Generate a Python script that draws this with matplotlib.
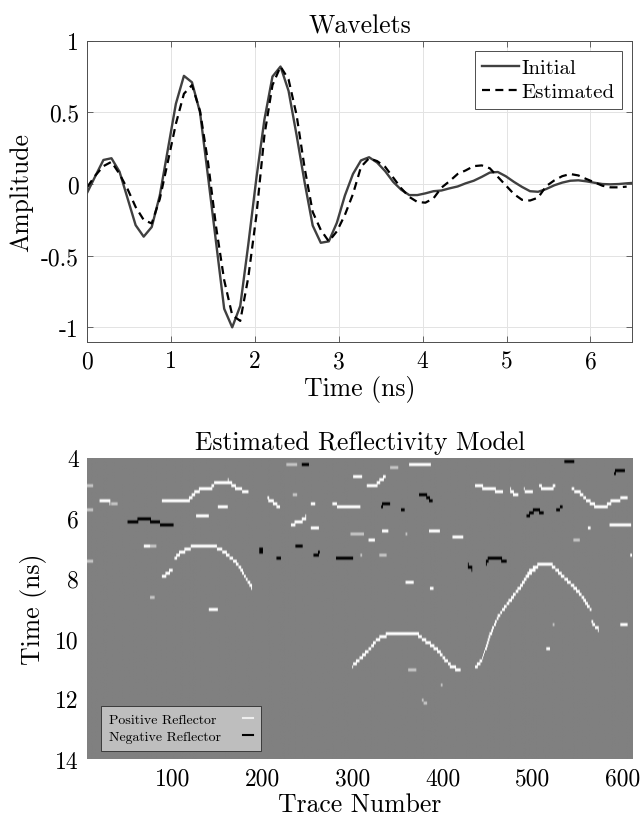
import numpy as np
import matplotlib
matplotlib.use("Agg")
import matplotlib.pyplot as plt
from matplotlib.lines import Line2D

plt.rcParams["font.family"] = "cmr10"
plt.rcParams["mathtext.fontset"] = "cm"
plt.rcParams["axes.formatter.use_mathtext"] = True
plt.rcParams["axes.unicode_minus"] = False

# ---------------- wavelets (sample interval in ns) ----------------
sample_dt = 0.096
initial_wavelet = [
    -0.058, 0.056, 0.168, 0.18, 0.086, -0.10, -0.287, -0.367, -0.30, -0.08,
    0.24, 0.56, 0.755, 0.71, 0.50, 0.05, -0.41, -0.87, -1.00, -0.85,
    -0.42, 0.04, 0.45, 0.75, 0.82, 0.65, 0.34, 0.01, -0.29, -0.41,
    -0.40, -0.27, -0.08, 0.07, 0.165, 0.187, 0.15, 0.09, 0.015, -0.04,
    -0.077, -0.077, -0.065, -0.05, -0.045, -0.03, -0.017, 0.005, 0.023, 0.05,
    0.08, 0.084, 0.054, 0.015, -0.02, -0.05, -0.054, -0.035, -0.009, 0.01,
    0.023, 0.026, 0.019, 0.009, 0.0, -0.002, 0.0, 0.005, 0.009,
]
estimated_wavelet = [
    -0.02, 0.06, 0.125, 0.155, 0.07, -0.035, -0.16, -0.25, -0.275, -0.105,
    0.155, 0.42, 0.63, 0.69, 0.51, 0.15, -0.30, -0.67, -0.915, -0.955,
    -0.65, -0.22, 0.34, 0.69, 0.82, 0.73, 0.48, 0.11, -0.195, -0.32,
    -0.40, -0.33, -0.215, -0.07, 0.12, 0.18, 0.16, 0.12, 0.045, -0.03,
    -0.09, -0.125, -0.13, -0.10, -0.025, 0.02, 0.07, 0.095, 0.125, 0.13,
    0.11, 0.05, -0.01, -0.07, -0.11, -0.115, -0.095, -0.015, 0.025, 0.055,
    0.07, 0.06, 0.035, 0.012, -0.012, -0.023, -0.023, -0.018,
]
wavelet_yticks = [-1, -0.5, 0, 0.5, 1]
wavelet_yticklabels = ["-1", "-0.5", "0", "0.5", "1"]
wavelet_xticks = [0, 1, 2, 3, 4, 5, 6]

# ---------------- reflectivity model ----------------
n_traces = 610
t_start, t_end, t_step = 4.0, 14.0, 0.1

# reflectors as (trace, time in ns) polylines
positive_reflectors = [
    [(89, 5.45), (116, 5.48), (126, 5.18), (131, 5.08), (142, 5.08), (148, 4.84),
     (162, 4.8), (169, 4.98), (173, 5.08), (184, 5.13)],
    [(127, 5.96), (140, 5.96)],
    [(151, 5.66), (161, 5.66)],
    [(69, 6.9), (75, 6.9)],
    [(89, 7.99), (100, 7.74)],
    [(103, 7.38), (109, 7.16), (118, 7.04), (126, 6.91), (144, 6.91), (150, 7.01),
     (158, 7.14), (162, 7.27), (169, 7.43), (175, 7.65), (180, 7.93), (186, 8.21),
     (188, 8.3)],
    [(141, 9.05), (150, 9.05)],
    [(20, 5.45), (31, 5.5)],
    [(206, 5.38), (212, 5.5), (219, 5.68)],
    [(254, 5.5), (258, 5.5)],
    [(232, 6.24), (240, 6.15), (247, 6.05), (248, 5.95)],
    [(254, 6.35), (262, 6.35)],
    [(278, 5.5), (284, 5.63), (308, 5.63)],
    [(301, 4.65), (310, 4.65)],
    [(363, 4.3), (385, 4.3), (386, 4.22)],
    [(316, 4.93), (326, 4.93), (333, 4.72), (336, 4.65)],
    [(436, 4.98), (452, 5.02), (460, 5.13), (466, 5.13)],
    [(475, 5.1), (478, 5.2), (483, 5.2)],
    [(490, 5.08), (492, 5.15), (499, 5.15)],
    [(507, 4.95), (509, 5.0), (522, 5.0), (524, 4.92)],
    [(543, 5.06), (553, 5.22), (560, 5.44), (568, 5.6), (579, 5.66), (586, 5.5),
     (601, 5.36), (604, 5.36)],
    [(333, 6.43), (339, 6.43)],
    [(318, 6.74), (324, 6.74)],
    [(385, 6.43), (396, 6.43)],
    [(411, 6.63), (422, 6.63)],
    [(359, 8.15), (367, 8.15)],
    [(386, 8.34), (389, 8.34)],
    [(585, 6.22), (608, 6.22)],
    [(561, 6.35), (563, 6.35)],
    [(608, 7.21), (609, 7.21)],
    [(436, 10.96), (443, 10.74), (447, 10.36), (452, 9.91), (460, 9.36), (467, 9.03),
     (476, 8.69), (483, 8.4), (490, 8.1), (497, 7.76), (505, 7.6), (521, 7.6),
     (525, 7.71), (534, 7.99), (546, 8.32), (555, 8.65), (562, 8.98), (564, 9.05)],
    [(486, 8.3), (492, 8.0), (500, 7.75), (504, 7.65)],
    [(565, 9.47), (572, 9.71)],
    [(597, 9.5), (604, 9.5)],
    [(515, 10.36), (518, 10.36)],
    [(300, 10.91), (306, 10.74), (319, 10.36), (326, 10.08), (334, 9.91), (348, 9.86),
     (371, 9.86), (380, 10.08), (393, 10.36), (402, 10.69), (410, 10.96), (419, 11.04)],
]
weak_positive_reflectors = [
    [(6, 4.9), (12, 4.9)],
    [(6, 5.77), (12, 5.77)],
    [(6, 7.45), (12, 7.45)],
    [(33, 5.6), (39, 5.6)],
    [(76, 6.93), (82, 6.93)],
    [(76, 8.63), (80, 8.63)],
    [(227, 4.3), (238, 4.3)],
    [(234, 5.27), (238, 5.27)],
    [(342, 4.37), (350, 4.37)],
    [(298, 6.5), (312, 6.5)],
    [(309, 7.3), (310, 7.3)],
    [(330, 7.29), (337, 7.29)],
    [(359, 6.52), (360, 6.52)],
    [(545, 6.77), (551, 6.77)],
    [(522, 9.58), (523, 9.58)],
    [(362, 11.03), (370, 11.03)],
    [(398, 11.6), (399, 11.6)],
    [(377, 12.07), (382, 12.17)],
]
negative_reflectors = [
    [(51, 6.14), (62, 6.14), (63, 6.05), (75, 6.05), (76, 6.14), (86, 6.14),
     (87, 6.24), (101, 6.24)],
    [(244, 4.24), (251, 4.24)],
    [(197, 7.07), (200, 7.07)],
    [(197, 7.17), (200, 7.17)],
    [(216, 7.32), (220, 7.32)],
    [(237, 6.99), (243, 6.99), (244, 6.93)],
    [(257, 7.21), (262, 7.21), (263, 7.15)],
    [(282, 7.38), (300, 7.38)],
    [(374, 5.27), (381, 5.27), (384, 5.38), (388, 5.45)],
    [(332, 5.65), (334, 5.55), (341, 5.5)],
    [(354, 5.77), (357, 5.77)],
    [(428, 7.6), (432, 7.7)],
    [(448, 7.5), (450, 7.4), (460, 7.37), (470, 7.43)],
    [(535, 4.13), (545, 4.13)],
    [(590, 4.53), (593, 4.45), (601, 4.45)],
    [(493, 5.98), (500, 5.8), (505, 5.76), (511, 5.87)],
    [(526, 5.76), (532, 5.66)],
]
model_xticks = [100, 200, 300, 400, 500, 600]
model_yticks = [4, 6, 8, 10, 12, 14]
legend_labels = ["Positive Reflector", "Negative Reflector"]

n_rows = int(round((t_end - t_start) / t_step))
model = np.zeros((n_rows, n_traces))


def paint(grid, pts, value):
    """Rasterise a (trace, time) polyline into the model grid."""
    if len(pts) == 1:
        pts = pts * 2
    for (c0, t0), (c1, t1) in zip(pts[:-1], pts[1:]):
        r0 = (t0 - t_start) / t_step
        r1 = (t1 - t_start) / t_step
        n = int(max(abs(c1 - c0), abs(r1 - r0)) * 3) + 2
        cs = np.linspace(c0, c1, n)
        rs = np.linspace(r0, r1, n)
        ri = np.clip(np.floor(rs).astype(int), 0, grid.shape[0] - 1)
        ci = np.clip(np.round(cs).astype(int) - 1, 0, grid.shape[1] - 1)
        grid[ri, ci] = value


for seg in positive_reflectors:
    paint(model, seg, 1.0)
for seg in weak_positive_reflectors:
    paint(model, seg, 0.55)
for seg in negative_reflectors:
    paint(model, seg, -1.0)

# ---------------- figure ----------------
fig = plt.figure(figsize=(6.44, 8.2), dpi=100)
ax1 = fig.add_axes([0.1356, 0.5821, 0.8463, 0.367])
ax2 = fig.add_axes([0.1356, 0.0732, 0.8463, 0.3674])

t_init = np.arange(len(initial_wavelet)) * sample_dt
t_est = np.arange(len(estimated_wavelet)) * sample_dt
ax1.plot(t_init, initial_wavelet, color="#404040", lw=1.7, label="Initial")
ax1.plot(t_est, estimated_wavelet, color="black", lw=1.6, ls=(0, (3.6, 2.4)),
         label="Estimated")
ax1.set_xlim(0, 6.5)
ax1.set_ylim(-1.1, 1.0)
ax1.set_xticks(wavelet_xticks)
ax1.set_xticklabels([str(v) for v in wavelet_xticks])
ax1.set_yticks(wavelet_yticks)
ax1.set_yticklabels(wavelet_yticklabels)
ax1.grid(True, color="#e3e3e3", lw=0.7)
ax1.set_axisbelow(True)
ax1.tick_params(direction="in", length=4, width=0.6, top=True, right=True,
                labelsize=17, pad=6, color="#4d4d4d")
for s in ax1.spines.values():
    s.set_color("#4d4d4d")
    s.set_linewidth(0.7)
ax1.set_title("Wavelets", fontsize=18.5, pad=6)
ax1.set_xlabel("Time (ns)", fontsize=18.5, labelpad=2)
ax1.set_ylabel("Amplitude", fontsize=18.5, labelpad=6)
leg1 = ax1.legend(loc="upper right", fontsize=15, handlelength=1.8,
                  handletextpad=0.1, borderpad=0.35, labelspacing=0.28,
                  borderaxespad=0.5, fancybox=False, framealpha=1,
                  edgecolor="#4d4d4d")
leg1.get_frame().set_linewidth(0.7)

ax2.imshow(model, cmap="gray", vmin=-1, vmax=1, aspect="auto",
           extent=[0.5, n_traces + 0.5, t_end, t_start], interpolation="antialiased")
ax2.set_xlim(5.6, n_traces + 0.5)
ax2.set_ylim(t_end, t_start)
ax2.set_xticks(model_xticks)
ax2.set_xticklabels([str(v) for v in model_xticks])
ax2.set_yticks(model_yticks)
ax2.set_yticklabels([str(v) for v in model_yticks])
ax2.tick_params(length=0, labelsize=17, pad=6)
for s in ax2.spines.values():
    s.set_visible(False)
ax2.set_title("Estimated Reflectivity Model", fontsize=18.5, pad=6)
ax2.set_xlabel("Trace Number", fontsize=18.5, labelpad=2)
ax2.set_ylabel("Time (ns)", fontsize=18.5, labelpad=6)

handles = [Line2D([], [], color="#eeeeee", lw=1.5),
           Line2D([], [], color="black", lw=1.5)]
text_pad = 1.6
leg2 = ax2.legend(handles, legend_labels,
                  loc="lower left", bbox_to_anchor=(0.026, 0.0275), borderaxespad=0,
                  fontsize=10, markerfirst=False, handlelength=0.7,
                  handletextpad=text_pad, borderpad=0.55, labelspacing=0.3,
                  fancybox=False, framealpha=1, facecolor="#bebebe",
                  edgecolor="#3a3a3a")
leg2.get_frame().set_linewidth(0.7)

# left-align the legend labels while keeping the line samples in one column
fig.canvas.draw()
renderer = fig.canvas.get_renderer()
widths = [t.get_window_extent(renderer).width for t in leg2.get_texts()]
px_to_pt = 72.0 / fig.dpi
for column in leg2._legend_handle_box.get_children():
    for item, w in zip(column.get_children(), widths):
        item.sep = text_pad * 10 + (max(widths) - w) * px_to_pt

fig.savefig("out.png", dpi=100)
